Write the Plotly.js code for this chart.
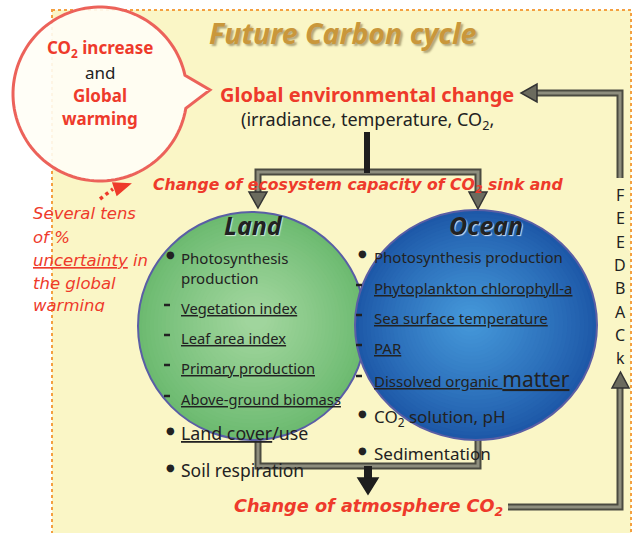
<!DOCTYPE html>
<html><head><meta charset="utf-8">
<script src="https://cdn.plot.ly/plotly-3.0.1.min.js"></script>
<style>html,body{margin:0;padding:0;background:#fff}</style>
</head><body><div id="chart" style="width:637px;height:533px"></div>
<script>
// ---- content ----
const titleText = 'Future Carbon cycle';
const bubbleLines = ['CO<sub>2</sub> increase', 'and', 'Global', 'warming'];
const globalChange = 'Global environmental change';
const globalChangeSub = '(irradiance, temperature, CO<sub>2</sub>,';
const ecosystemChange = 'Change of ecosystem capacity of CO<sub>2</sub> sink and';
const atmosphereChange = 'Change of atmosphere CO<sub>2</sub>';
const uncertaintyLines = ['Several tens', 'of %', '<u>uncertainty</u> in', 'the global', 'warming'];
const feedbackLetters = ['F', 'E', 'E', 'D', 'B', 'A', 'C', 'k'];
const landTitle = 'Land';
const oceanTitle = 'Ocean';
const landProcesses = ['Photosynthesis<br>production', '<u>Land cover</u>/use', 'Soil respiration'];
const landIndicators = ['Vegetation index', 'Leaf area index', 'Primary production', 'Above-ground biomass'];
const oceanProcesses = ['Photosynthesis production', 'CO<sub>2</sub> solution, pH', 'Sedimentation'];
const oceanIndicators = ['Phytoplankton chlorophyll-a', 'Sea surface temperature', 'PAR', 'Dissolved organic <span style="font-size:21px">matter</span>'];

// ---- styling / drawing ----
const RED = '#EE3A2B', DARK = '#222222', FONT = 'Noto Sans', WIDE = 'DejaVu Sans';
const shapes = [];
const ann = [];

function hexToRgb(h){h=h.replace('#','');return [0,2,4].map(i=>parseInt(h.substr(i,2),16));}
function mix(a,b,t){const A=hexToRgb(a),B=hexToRgb(b);return 'rgb('+A.map((v,i)=>Math.round(v+(B[i]-v)*t)).join(',')+')';}
function gradEllipse(cx,cy,rx,ry,outer,inner,fx,fy,n,border){
  for(let i=0;i<n;i++){
    const t=i/n, s=1-t*0.93;
    const ccx=cx+(fx-cx)*t, ccy=cy+(fy-cy)*t;
    shapes.push({type:'circle',xref:'x',yref:'y',x0:ccx-rx*s,x1:ccx+rx*s,y0:ccy-ry*s,y1:ccy+ry*s,
      fillcolor:mix(outer,inner,Math.pow(t,0.9)),line:{width:0}});
  }
  shapes.push({type:'circle',xref:'x',yref:'y',x0:cx-rx,x1:cx+rx,y0:cy-ry,y1:cy+ry,
    fillcolor:'rgba(0,0,0,0)',line:{color:border,width:2}});
}
function pathOf(pts,close){return 'M'+pts.map(p=>p[0]+','+p[1]).join(' L')+(close?' Z':'');}
function grayLine(pts){
  shapes.push({type:'path',xref:'x',yref:'y',path:pathOf(pts),line:{color:'#4a4a40',width:7}});
  shapes.push({type:'path',xref:'x',yref:'y',path:pathOf(pts),line:{color:'#8e8e7e',width:3}});
}
function tri(pts,fill,edge){
  shapes.push({type:'path',xref:'x',yref:'y',path:pathOf(pts,true),fillcolor:fill,line:{color:edge,width:1.5}});
}
function txt(x,y,text,o){
  o=o||{};
  const a={x:x,y:y,xref:'x',yref:'y',text:text,showarrow:false,
    xanchor:o.xa||'left',yanchor:o.ya||'middle',align:o.align||'left',
    font:{family:o.family||FONT,size:o.size||14,color:o.color||DARK,
      weight:o.weight||'normal',style:o.style||'normal'}};
  if(o.shadow) a.font.shadow=o.shadow;
  if(o.height){a.height=o.height;a.valign=o.valign||'top';}
  ann.push(a);
}

// panel
shapes.push({type:'rect',xref:'x',yref:'y',x0:52,x1:631,y0:10,y1:545,fillcolor:'#FAF6C6',
  line:{color:'#F4A040',width:2,dash:'dot'}});

// speech bubble
(function(){
  const cx=100, cy=94, r=87, pts=[];
  const a0=-12.5*Math.PI/180, a1=9.5*Math.PI/180;
  for(let k=0;k<=120;k++){
    const a=a1+(2*Math.PI-(a1-a0))*k/120;
    pts.push([(cx+r*Math.cos(a)).toFixed(2),(cy+r*Math.sin(a)).toFixed(2)]);
  }
  pts.push([210,90]);
  shapes.push({type:'path',xref:'x',yref:'y',path:pathOf(pts,true),
    fillcolor:'rgba(255,254,246,0.9)',line:{color:'#EC625A',width:3}});
})();

// dotted red arrow
shapes.push({type:'line',xref:'x',yref:'y',x0:100,y0:199,x1:113,y1:189,line:{color:RED,width:3.5,dash:'dot'}});
tri([[113,183],[117,195],[130,184]],RED,RED);

// bottom gray connector (below circles)
grayLine([[258,436],[258,466],[478,466],[478,436]]);

// circles
gradEllipse(252,326,114,114,'#6CBA70','#A2D69E',256,318,28,'#5A5EA5');
gradEllipse(476,325,121,115,'#1D58A8','#4496D8',470,320,28,'#5A5EA5');

// top branch
grayLine([[258,193],[258,172],[478,172],[478,193]]);
tri([[249,192],[267,192],[258,208]],'#6b6b5e','#333');
tri([[469,192],[487,192],[478,209]],'#6b6b5e','#333');
shapes.push({type:'line',xref:'x',yref:'y',x0:367,y0:132,x1:367,y1:173,line:{color:'#1e1e1e',width:6}});

// bottom black arrow
shapes.push({type:'line',xref:'x',yref:'y',x0:368,y0:466,x1:368,y1:480,line:{color:'#1e1e1e',width:8}});
tri([[358,478],[378,478],[368,494]],'#1e1e1e','#1e1e1e');

// feedback loop
grayLine([[508,507],[620,507],[620,388]]);
tri([[612,388],[629,388],[620.5,372]],'#6b6b5e','#333');
grayLine([[620,178],[620,93],[537,93]]);
tri([[537,84],[537,102],[521,93]],'#6b6b5e','#333');

// ---- texts ----
txt(343,33,titleText,{xa:'center',size:28.5,color:'#C9973B',weight:'bold',style:'italic',
  shadow:'2px 2px 2px rgba(90,70,30,0.45)'});
const bubY=[48,72,95,118];
bubbleLines.forEach((t,i)=>txt(100,bubY[i],t,{xa:'center',size:17,color:i===1?DARK:RED,weight:i===1?'normal':'bold'}));
txt(367,94,globalChange,{xa:'center',size:20,color:RED,weight:'bold'});
txt(367,120,globalChangeSub,{xa:'center',size:18});
txt(358,185,ecosystemChange,{xa:'center',size:15.7,color:RED,weight:'bold',style:'italic',family:WIDE});
txt(368,507,atmosphereChange,{xa:'center',size:17.7,color:RED,weight:'bold',style:'italic',family:WIDE});
feedbackLetters.forEach((t,i)=>txt(620,195+i*23.3,t,{xa:'center',size:16}));

const uncY=[213,237,260,283];
uncertaintyLines.slice(0,4).forEach((t,i)=>txt(31,uncY[i],t,{size:16.5,color:RED,style:'italic',family:WIDE}));
txt(31,294,uncertaintyLines[4],{size:16.5,color:RED,style:'italic',family:WIDE,ya:'top',height:16});

txt(253,225,landTitle,{xa:'center',size:25,weight:'bold',style:'italic',shadow:'1px 1px 1px rgba(255,255,255,0.7)'});
txt(486,225,oceanTitle,{xa:'center',size:25,weight:'bold',style:'italic',shadow:'1px 1px 1px rgba(255,255,255,0.8)'});

function bullet(x,y){txt(x,y,'●',{xa:'center',size:10,family:'DejaVu Sans'});}
function dash(x,y){shapes.push({type:'line',xref:'x',yref:'y',x0:x-3,x1:x+3,y0:y,y1:y,line:{color:DARK,width:2.5}});}

// land column
bullet(170,254); txt(179,268,landProcesses[0],{size:15});
const landIndY=[308,338,368,399];
landIndicators.forEach((t,i)=>{dash(167,landIndY[i]-3);txt(179,landIndY[i],'<u>'+t+'</u>',{size:14.7});});
bullet(170,430); txt(179,433,landProcesses[1],{size:17.8});
bullet(170,467); txt(179,470,landProcesses[2],{size:17.5});

// ocean column
bullet(362,253); txt(372,257,oceanProcesses[0],{size:15});
const oceanIndY=[288,318,348,379];
oceanIndicators.forEach((t,i)=>{dash(359,oceanIndY[i]-3);txt(372,oceanIndY[i],'<u>'+t+'</u>',{size:15});});
bullet(362,413); txt(372,417,oceanProcesses[1],{size:17});
bullet(362,450); txt(372,453,oceanProcesses[2],{size:17});

const layout={width:637,height:533,margin:{l:0,r:0,t:0,b:0},
  paper_bgcolor:'#ffffff',plot_bgcolor:'#ffffff',showlegend:false,
  xaxis:{range:[0,637],visible:false,fixedrange:true},
  yaxis:{range:[533,0],visible:false,fixedrange:true},
  shapes:shapes,annotations:ann};
Plotly.newPlot('chart',[{x:[],y:[],type:'scatter',mode:'markers',hoverinfo:'skip'}],layout,{staticPlot:true,displayModeBar:false});
</script></body></html>
